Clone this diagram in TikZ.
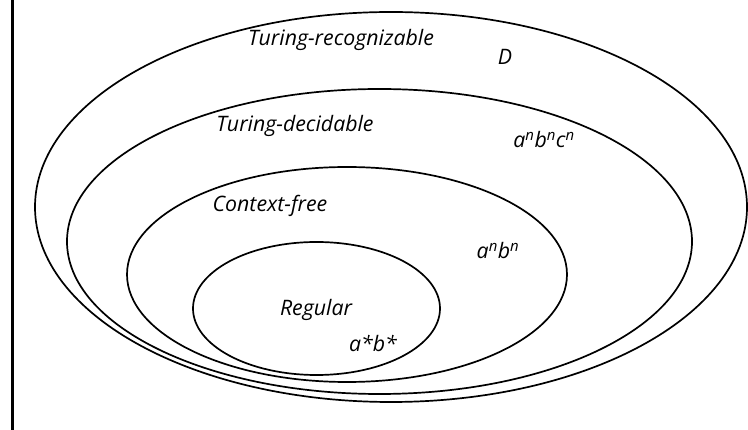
\documentclass[tikz,border=0pt]{standalone}
\usepackage{fontspec}
\setmainfont{Open Sans}
\begin{document}
\begin{tikzpicture}[x=1pt,y=-1pt,
  set/.style={line width=1.7pt},
  lbl/.style={font=\fontsize{21.3}{24}\selectfont\itshape, inner sep=0pt, anchor=center}]
\useasboundingbox (0,0) rectangle (748,430);
\fill[white] (0,0) rectangle (748,430);
\draw[line width=2.3pt] (12.5,0) -- (12.5,430);
\draw[set] (391,207) ellipse [x radius=356, y radius=195];
\draw[set] (379.5,241.5) ellipse [x radius=312.5, y radius=152.5];
\draw[set] (347,274.5) ellipse [x radius=220, y radius=107.5];
\draw[set] (316.5,308.5) ellipse [x radius=123.5, y radius=66.5];
\node[lbl] (tr) at (341,40) {Turing-recognizable};
\node[lbl] (d) at (505,57) {D};
\node[lbl] (td) at (295,126) {Turing-decidable};
\node[lbl] (abc) at (544,140) {a\textsuperscript{n}b\textsuperscript{n}c\textsuperscript{n}};
\node[lbl] (cf) at (270,206) {Context-free};
\node[lbl] (ab) at (498,251) {a\textsuperscript{n}b\textsuperscript{n}};
\node[lbl] (reg) at (316,310) {Regular};
\node[lbl] (ss) at (373,343) {a*b*};
\end{tikzpicture}
\end{document}
